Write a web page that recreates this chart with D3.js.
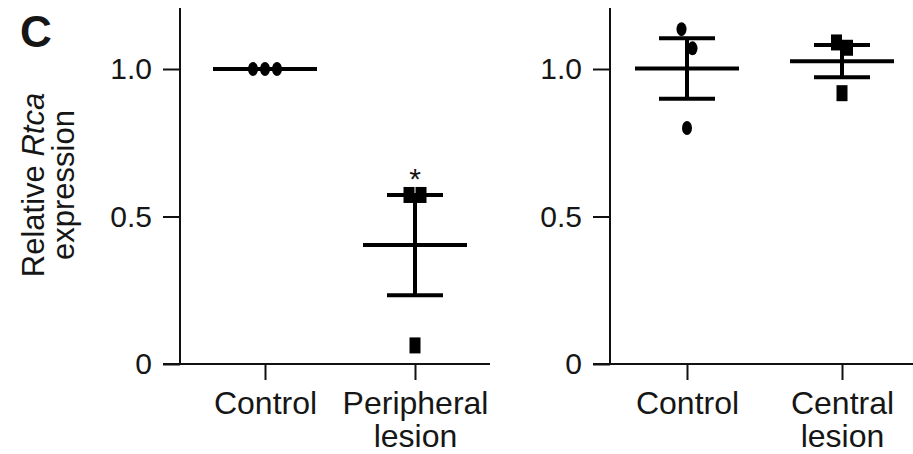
<!DOCTYPE html>
<html lang="en">
<head>
<meta charset="UTF-8">
<title>Relative Rtca expression</title>
<script src="https://d3js.org/d3.v7.min.js"></script>
<style>
    body { margin: 0; background: #fff; }
    svg text { font-family: "Liberation Sans", Arial, sans-serif; fill: #161616; }
</style>
</head>
<body>
<div id="chart"></div>
<script>
    // data
    const yTickValues = [0, 0.5, 1.0];
    const yTickLabels = ["0", "0.5", "1.0"];

    const leftCategories = ["Control", "Peripheral lesion"];
    const rightCategories = ["Control", "Central lesion"];

    const leftControl = [1.0, 1.0, 1.0];
    const peripheralLesion = [0.573, 0.573, 0.063];
    const rightControl = [1.135, 1.07, 0.80];
    const centralLesion = [1.09, 1.072, 0.918];

    const significant = ["Peripheral lesion"];

    // marker shape per group (style only)
    const leftShapes = ["circle", "square"];
    const rightShapes = ["circle", "square"];

    const w = 913, h = 454;

    const svg = d3.select("#chart").append("svg")
        .attr("width", w)
        .attr("height", h);

    const y = d3.scaleLinear().domain([0, 1.2]).range([364, 10]);

    // panel letter
    svg.append("text")
        .attr("x", 20).attr("y", 47)
        .style("font-size", "44px")
        .style("font-weight", "bold")
        .text("C");

    // y label
    const yLabel = svg.append("text")
        .attr("transform", "translate(44,185) rotate(-90)")
        .attr("text-anchor", "middle")
        .style("font-size", "31px");
    yLabel.append("tspan").attr("x", 0).attr("dy", 0).text("Relative ");
    yLabel.append("tspan").style("font-style", "italic").text("Rtca");
    yLabel.append("tspan").attr("x", 0).attr("dy", 30).text("expression");

    const panels = [
        { axisX: 180, right: 490, range: [265, 415], cats: leftCategories,
          values: [leftControl, peripheralLesion], shapes: leftShapes, spread: 12 },
        { axisX: 610, right: 913, range: [687, 842], cats: rightCategories,
          values: [rightControl, centralLesion], shapes: rightShapes, spread: 11 }
    ];

    // spread points that sit close together horizontally
    function offsets(vals) {
        const py = vals.map(y);
        const out = vals.map(() => 0);
        const order = d3.range(vals.length).sort((a, b) => py[a] - py[b]);
        const clusters = [];
        order.forEach(i => {
            const last = clusters[clusters.length - 1];
            if (last && py[i] - py[last[last.length - 1]] < 22) last.push(i);
            else clusters.push([i]);
        });
        clusters.forEach(c => c.forEach((k, j) => out[k] = j - (c.length - 1) / 2));
        return out;
    }

    panels.forEach(p => {
        const x = d3.scalePoint().domain(p.cats).range(p.range);
        const tickLen = 17;

        const yAxis = d3.axisLeft(y)
            .tickValues(yTickValues)
            .tickFormat((d, i) => yTickLabels[i])
            .tickSize(tickLen)
            .tickSizeOuter(0)
            .tickPadding(11);

        const gy = svg.append("g")
            .attr("transform", `translate(${p.axisX},0)`)
            .call(yAxis);
        gy.select(".domain").attr("d", `M0,${y(0)}V${y.range()[1] - 2}`);

        const xAxis = d3.axisBottom(x)
            .tickSize(16)
            .tickSizeOuter(0)
            .tickPadding(11);

        const gx = svg.append("g")
            .attr("transform", `translate(0,${y(0)})`)
            .call(xAxis);
        gx.select(".domain").attr("d", `M${p.axisX - tickLen},0H${p.right}`);

        gx.selectAll(".tick text").each(function(d) {
            const t = d3.select(this).text("");
            const words = d.split(" ");
            words.forEach((wd, i) => {
                t.append("tspan").attr("x", 0).attr("dy", i === 0 ? "0.71em" : "1.04em").text(wd);
            });
        });

        [gx, gy].forEach(g => {
            g.selectAll("path, line").attr("stroke", "#111").attr("stroke-width", 2);
            g.selectAll("text").attr("fill", "#161616");
        });
        gy.selectAll("text").style("font-size", "30px");
        gx.selectAll("text").style("font-size", "32px");

        p.cats.forEach((cat, gi) => {
            const vals = p.values[gi];
            const cx = x(cat);
            const m = d3.mean(vals);
            const sem = d3.deviation(vals) / Math.sqrt(vals.length);
            const off = offsets(vals);
            const g = svg.append("g");

            // points
            vals.forEach((v, i) => {
                const px = cx + off[i] * p.spread;
                if (p.shapes[gi] === "circle") {
                    g.append("ellipse")
                        .attr("cx", px).attr("cy", y(v))
                        .attr("rx", 5).attr("ry", 7)
                        .attr("fill", "#000");
                } else {
                    g.append("rect")
                        .attr("x", px - 5.5).attr("y", y(v) - 8)
                        .attr("width", 11).attr("height", 16)
                        .attr("fill", "#000");
                }
            });

            // mean and SEM
            g.append("line")
                .attr("x1", cx - 52).attr("x2", cx + 52)
                .attr("y1", y(m)).attr("y2", y(m))
                .attr("stroke", "#000").attr("stroke-width", 4);
            if (sem > 0) {
                g.append("line")
                    .attr("x1", cx).attr("x2", cx)
                    .attr("y1", y(m - sem)).attr("y2", y(m + sem))
                    .attr("stroke", "#000").attr("stroke-width", 4);
                [m - sem, m + sem].forEach(e => {
                    g.append("line")
                        .attr("x1", cx - 28).attr("x2", cx + 28)
                        .attr("y1", y(e)).attr("y2", y(e))
                        .attr("stroke", "#000").attr("stroke-width", 4);
                });
            }

            if (significant.includes(cat)) {
                g.append("text")
                    .attr("x", cx).attr("y", y(d3.max(vals)) - 6)
                    .attr("text-anchor", "middle")
                    .style("font-size", "30px")
                    .text("*");
            }
        });
    });
</script>
</body>
</html>
